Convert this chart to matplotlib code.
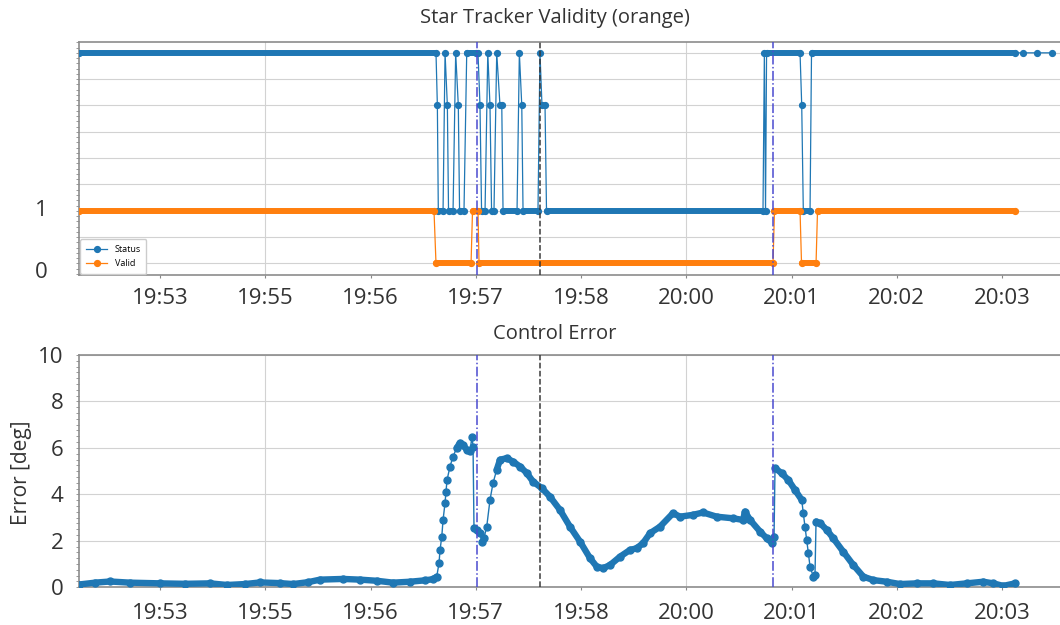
import matplotlib
matplotlib.use("Agg")
import matplotlib.pyplot as plt
from matplotlib.ticker import FixedLocator, MultipleLocator, NullFormatter
from matplotlib.transforms import blended_transform_factory

# x axis is in "tick units" (one unit per printed time label)
tick_pos = [0, 1, 2, 3, 4, 5, 6, 7, 8]
tick_labels = ["19:53", "19:55", "19:56", "19:57", "19:58",
               "20:00", "20:01", "20:02", "20:03"]
grid_pos = [1, 5]

event_blue = [3.012, 5.824]
event_black = [3.610]

# star tracker status (blue) - sample points incl. transitions
status_t = [-0.770, 2.622, 2.635, 2.644, 2.689, 2.708, 2.730, 2.741, 2.784,
            2.809, 2.834, 2.846, 2.888, 2.914, 3.002, 3.021, 3.040, 3.055,
            3.088, 3.114, 3.135, 3.150, 3.173, 3.199, 3.230, 3.247, 3.259,
            3.392, 3.414, 3.437, 3.449, 3.591, 3.610, 3.629, 3.658, 3.672,
            5.729, 5.742, 5.753, 5.763, 6.081, 6.097, 6.112, 6.176, 6.190,
            8.124, 8.200, 8.333, 8.475]
status_v = [4, 4, 3, 1, 1, 4, 3, 1, 1,
            4, 3, 1, 1, 4, 4, 4, 3, 1,
            1, 4, 3, 1, 1, 4, 3, 3, 1,
            1, 4, 3, 1, 1, 4, 3, 3, 1,
            1, 4, 1, 4, 4, 3, 1, 1, 4,
            4, 4, 4, 4]
# dense stretches where the markers merge into a band
status_runs = [(-0.770, 2.622, 4), (2.644, 2.689, 1), (2.741, 2.784, 1),
               (2.846, 2.888, 1), (2.914, 3.021, 4), (3.055, 3.088, 1),
               (3.150, 3.173, 1), (3.259, 3.392, 1), (3.449, 3.591, 1),
               (3.672, 5.729, 1), (5.763, 6.081, 4), (6.112, 6.176, 1),
               (6.190, 8.124, 4)]

# valid flag (orange)
valid_t = [-0.770, 2.603, 2.622, 2.955, 2.969, 3.021, 3.031, 5.824,
           5.838, 6.081, 6.095, 6.233, 6.247, 8.124]
valid_v = [1, 1, 0, 0, 1, 1, 0, 0,
           1, 1, 0, 0, 1, 1]
valid_runs = [(-0.770, 2.603, 1), (2.622, 2.955, 0), (2.969, 3.021, 1),
              (3.031, 5.824, 0), (5.838, 6.081, 1), (6.095, 6.233, 0),
              (6.247, 8.124, 1)]

# control error [deg]
err_t = [-0.770, -0.618, -0.475, -0.285, 0.000, 0.238, 0.475, 0.637, 0.808,
         0.950, 1.140, 1.264, 1.406, 1.520, 1.739, 1.900, 2.062, 2.214,
         2.375, 2.518, 2.594, 2.629, 2.651, 2.660, 2.677, 2.689, 2.708,
         2.717, 2.727, 2.755, 2.784, 2.819, 2.850, 2.879, 2.914, 2.945,
         2.964, 2.974, 2.983, 3.009, 3.040, 3.057, 3.078, 3.104, 3.135,
         3.164, 3.199, 3.230, 3.294, 3.354, 3.420, 3.484, 3.544, 3.627,
         3.705, 3.800, 3.895, 3.990, 4.086, 4.149, 4.209, 4.276, 4.371,
         4.466, 4.529, 4.589, 4.656, 4.751, 4.874, 4.941, 5.064, 5.159,
         5.289, 5.444, 5.539, 5.558, 5.606, 5.701, 5.764, 5.812, 5.834,
         5.843, 5.907, 5.970, 6.033, 6.097, 6.112, 6.128, 6.144, 6.160,
         6.176, 6.207, 6.223, 6.233, 6.271, 6.335, 6.397, 6.492, 6.587,
         6.682, 6.777, 6.904, 7.031, 7.190, 7.347, 7.506, 7.665, 7.822,
         7.917, 8.012, 8.124]
err_v = [0.12, 0.20, 0.25, 0.20, 0.17, 0.15, 0.17, 0.10, 0.14,
         0.21, 0.18, 0.14, 0.22, 0.33, 0.36, 0.33, 0.28, 0.20,
         0.24, 0.30, 0.35, 0.46, 1.05, 1.60, 2.18, 2.90, 3.63,
         4.12, 4.62, 5.20, 5.63, 6.00, 6.22, 6.13, 5.92, 5.85,
         6.49, 6.06, 2.55, 2.47, 2.34, 1.97, 2.12, 2.61, 3.76,
         4.49, 5.06, 5.49, 5.56, 5.41, 5.20, 4.92, 4.55, 4.27,
         3.90, 3.33, 2.61, 1.97, 1.25, 0.89, 0.82, 0.96, 1.32,
         1.61, 1.68, 1.90, 2.33, 2.61, 3.19, 3.04, 3.12, 3.22,
         3.04, 2.97, 2.90, 3.26, 2.90, 2.40, 2.11, 1.92, 2.18,
         5.13, 4.91, 4.62, 4.19, 3.76, 3.19, 2.61, 2.04, 1.47,
         0.89, 0.46, 0.53, 2.83, 2.76, 2.47, 2.11, 1.53, 0.96,
         0.46, 0.31, 0.24, 0.14, 0.17, 0.17, 0.10, 0.17, 0.24,
         0.17, 0.06, 0.17]
# time spans where the error samples are dense enough to merge into a band
err_dense = [(-0.770, 2.629), (2.800, 2.960), (3.199, 5.834),
             (5.843, 6.097), (6.233, 8.124)]

BLUE = "#1f77b4"
ORANGE = "#ff7f0e"
TXT = "#333333"

plt.rcParams["font.family"] = ["Open Sans", "DejaVu Sans"]

W, H = 1060, 625
fig = plt.figure(figsize=(W / 100, H / 100), dpi=100)


def px_axes(left, top, right, bottom):
    return fig.add_axes([left / W, 1 - bottom / H, (right - left) / W, (bottom - top) / H])


def style(ax, ylim, ymajor, yminor):
    ax.set_xlim(-0.770, 8.741)
    ax.set_ylim(*ylim)
    minor = [p for p in tick_pos if p not in grid_pos]
    ax.xaxis.set_major_locator(FixedLocator(grid_pos))
    ax.xaxis.set_minor_locator(FixedLocator(minor))
    ax.xaxis.set_major_formatter(plt.FixedFormatter([tick_labels[p] for p in grid_pos]))
    ax.xaxis.set_minor_formatter(plt.FixedFormatter([tick_labels[p] for p in minor]))
    ax.yaxis.set_major_locator(MultipleLocator(ymajor))
    ax.yaxis.set_minor_locator(MultipleLocator(yminor))
    ax.grid(True, which="major", color="#d2d2d2", lw=0.8)
    ax.set_axisbelow(True)
    ax.tick_params(axis="x", which="both", length=2.5, width=0.8, color="#888888",
                   labelsize=16, labelcolor=TXT)
    ax.tick_params(axis="y", which="both", length=2, width=0.6, color="#888888",
                   labelsize=16, labelcolor=TXT, pad=9)
    for s in ("top", "left", "bottom"):
        ax.spines[s].set_color("#8c8c8c")
        ax.spines[s].set_linewidth(1.2)
    ax.spines["right"].set_visible(False)
    for x in event_blue:
        ax.axvline(x, color="#4a4ad0", lw=1.1, ls="-.", zorder=5)
    for x in event_black:
        ax.axvline(x, color="#3a3a3a", lw=1.1, ls="--", zorder=5)


# ---- top: star tracker validity ----
ax1 = px_axes(79, 42.3, 1080, 275)
style(ax1, (-0.22, 4.2), 0.5, 0.1)
ax1.tick_params(axis="x", which="both", pad=7)
ax1.yaxis.set_major_formatter(NullFormatter())

for t0, t1, v in status_runs:
    ax1.plot([t0, t1], [v, v], color=BLUE, lw=4.3, solid_capstyle="round", zorder=3)
l_status, = ax1.plot(status_t, status_v, "-o", color=BLUE, lw=0.9, ms=4.2,
                     label="Status", zorder=3)
for t0, t1, v in valid_runs:
    ax1.plot([t0, t1], [v, v], color=ORANGE, lw=4.3, solid_capstyle="round", zorder=4)
l_valid, = ax1.plot(valid_t, valid_v, "-o", color=ORANGE, lw=0.9, ms=4.2,
                    label="Valid", zorder=4)

ax1.legend(handles=[l_status, l_valid], loc="lower left", fontsize=6.5,
           borderaxespad=0.15, borderpad=0.6, handlelength=2.4, labelspacing=0.6,
           framealpha=1, edgecolor="#cccccc")

tr = blended_transform_factory(ax1.transAxes, ax1.transData)
ax1.text(-0.031, 1, "1", transform=tr, ha="right", va="center", fontsize=16, color=TXT)
ax1.text(-0.031, -0.18, "0", transform=tr, ha="right", va="center", fontsize=16, color=TXT)

fig.text(555 / W, 1 - 18 / H, "Star Tracker Validity (orange)", ha="center",
         va="center", fontsize=14.5, color=TXT)

# ---- bottom: control error ----
ax2 = px_axes(79, 355, 1080, 587.3)
style(ax2, (0, 10), 2, 0.25)
ax2.tick_params(axis="x", which="both", pad=9)

for t0, t1 in err_dense:
    seg = [(t, v) for t, v in zip(err_t, err_v) if t0 <= t <= t1]
    ax2.plot([p[0] for p in seg], [p[1] for p in seg], color=BLUE, lw=4.6,
             solid_capstyle="round", solid_joinstyle="round", zorder=3)
ax2.plot(err_t, err_v, "-o", color=BLUE, lw=1.0, ms=5, zorder=3)
fig.text(22 / W, 1 - 473 / H, "Error [deg]", rotation=90, ha="center",
         va="center", fontsize=15, color=TXT)
fig.text(555 / W, 1 - 334 / H, "Control Error", ha="center", va="center",
         fontsize=14.5, color=TXT)

fig.savefig("out.png", dpi=100)
